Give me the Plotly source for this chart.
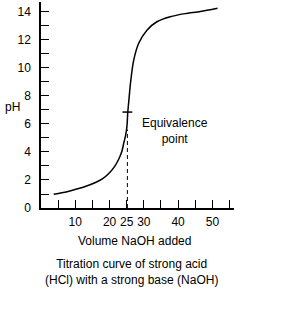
import plotly.graph_objects as go

# Titration curve data (volume NaOH added vs pH)
volume = [3.7, 6.5, 9.5, 12.5, 15.9, 18.0, 19.7, 21.3, 22.7, 23.6, 24.1, 24.7, 25.1,
          25.3, 25.6, 26.1, 27.0, 28.5, 30.9, 33.8, 37.7, 42.0, 46.5, 51.5]
ph = [0.98, 1.1, 1.29, 1.5, 1.82, 2.1, 2.45, 2.9, 3.5, 4.05, 4.6, 5.2, 5.9,
      6.8, 7.6, 8.9, 10.5, 11.76, 12.7, 13.3, 13.66, 13.88, 14.03, 14.26]

eq_volume = [25.2]
eq_ph = [6.85]
dash_volume = [25.2, 25.2]
dash_ph = [0, 5.6]

x_tickvals = [5, 10, 15, 20, 25, 30, 35, 40, 45, 50, 55]
x_ticktext = ["", "10", "", "20", "25", "30", "", "40", "", "50", ""]
y_tickvals = [0, 2, 4, 6, 8, 10, 12, 14]

FONT = "Liberation Sans, Arial, sans-serif"

fig = go.Figure()
fig.add_trace(go.Scatter(x=dash_volume, y=dash_ph, mode="lines",
                         line=dict(color="black", width=1, dash="4px,3px"),
                         hoverinfo="skip", showlegend=False))
fig.add_trace(go.Scatter(x=volume, y=ph, mode="lines",
                         line=dict(color="black", width=1.5, shape="spline", smoothing=0.8),
                         showlegend=False))
fig.add_trace(go.Scatter(x=eq_volume, y=eq_ph, mode="markers",
                         marker=dict(symbol="line-ew", size=7, line=dict(color="black", width=1.5)),
                         showlegend=False))

fig.update_layout(
    width=305, height=329,
    margin=dict(l=41, r=71, t=2, b=121),
    paper_bgcolor="white", plot_bgcolor="white",
    font=dict(family=FONT, size=12, color="black"),
    showlegend=False,
    xaxis=dict(range=[0, 56.3], showgrid=False, zeroline=False,
               showline=True, linecolor="black", linewidth=1.5,
               ticks="inside", ticklen=8, tickwidth=1, tickcolor="black",
               tickvals=x_tickvals, ticktext=x_ticktext,
               tickfont=dict(size=12), ticklabelstandoff=2),
    yaxis=dict(range=[0, 14.71], showgrid=False, zeroline=False,
               showline=True, linecolor="black", linewidth=1.5,
               ticks="inside", ticklen=8, tickwidth=1, tickcolor="black",
               tickvals=y_tickvals, tickfont=dict(size=12), ticklabelstandoff=6,
               minor=dict(tickvals=[1, 3, 5, 7, 9, 11, 13], ticks="inside",
                          ticklen=8, tickwidth=1, tickcolor="black")),
    annotations=[
        dict(text="pH", x=-0.15, y=0.49, xref="paper", yref="paper",
             xanchor="center", yanchor="middle", showarrow=False, font=dict(size=12)),
        dict(text="Volume NaOH added", x=0.487, y=-0.160, xref="paper", yref="paper",
             xanchor="center", yanchor="middle", showarrow=False, font=dict(size=12)),
        dict(text="Titration curve of strong acid<br>(HCl) with a strong base (NaOH)",
             x=0.47, y=-0.311, xref="paper", yref="paper",
             xanchor="center", yanchor="middle", showarrow=False, font=dict(size=12)),
        dict(text="Equivalence<br>point", x=39.2, y=5.5, xref="x", yref="y",
             xanchor="center", yanchor="middle", showarrow=False, font=dict(size=12)),
    ],
)

fig.write_html("out.html")
